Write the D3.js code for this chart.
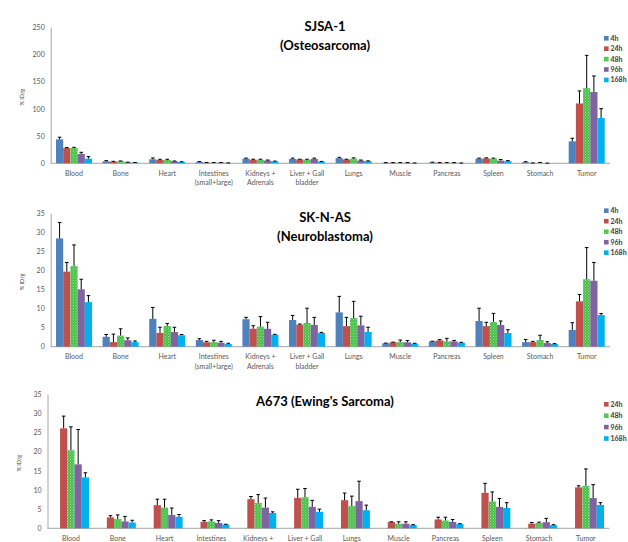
<!DOCTYPE html>
<meta charset="utf-8">
<script src="https://d3js.org/d3.v7.min.js"></script>
<style>
  body { margin: 0; background: #fff; }
  text { font-family: Lato, "Open Sans", sans-serif; }
</style>
<svg id="vis"></svg>
<script>
    // organs on the x axis (second line where the label wraps)
    let organs = ['Blood', 'Bone', 'Heart', 'Intestines', 'Kidneys +', 'Liver + Gall', 'Lungs', 'Muscle', 'Pancreas', 'Spleen', 'Stomach', 'Tumor']
    let organs2 = ['', '', '', '(small+large)', 'Adrenals', 'bladder', '', '', '', '', '', '']
    let times = ['4h', '24h', '48h', '96h', '168h']
    let timeColor = ['#4F81BD', '#C0504D', 'url(#check)', '#8064A2', '#00B0F0']

    // SJSA-1, rows = 4h, 24h, 48h, 96h, 168h
    let sjsaMean = [
        [44, 3.7, 7.4, 2.5, 8.5, 8, 9.5, 1, 1.5, 8.5, 2, 40.4],
        [28.2, 3.1, 6.1, 1.2, 6.5, 7, 7, 1, 1, 9, 0.5, 110],
        [28.2, 3.7, 6.1, 1.2, 6.5, 6.5, 8.5, 1, 1, 8.5, 1, 138],
        [17.2, 1.8, 3.7, 1.2, 5, 8, 5, 1, 1, 5, 0.2, 131],
        [8.6, 1.2, 2.5, 0.6, 3.5, 3, 4, 0.5, 0.5, 4, 0.1, 83.3]
    ]
    let sjsaSd = [
        [4, 1.2, 2.4, 0.8, 1, 1.5, 1.5, 0.2, 0.5, 1, 1, 5.6],
        [0.6, 0.5, 1.3, 0.3, 1, 0.5, 0.5, 0.3, 0.3, 1, 0.2, 23],
        [1.2, 0.6, 1.3, 0.3, 1, 1, 1.5, 0.3, 0.3, 1, 0.5, 60.5],
        [3, 0.3, 0.5, 0.3, 1, 1.5, 1, 0.3, 0.3, 2, 0.1, 29.5],
        [3.7, 0.3, 0.4, 0.2, 0.5, 0.5, 0.5, 0.1, 0.1, 1, 0, 17.2]
    ]

    // SK-N-AS
    let sknasMean = [
        [28.4, 2.6, 7.3, 1.75, 7.2, 7.0, 9.0, 0.9, 1.4, 6.75, 1.2, 4.4],
        [19.7, 1.2, 3.6, 1.15, 4.7, 5.8, 5.4, 1.15, 1.65, 5.4, 1.2, 11.9],
        [21.2, 2.9, 5.4, 1.2, 5.25, 6.2, 7.5, 1.2, 1.4, 6.5, 1.75, 17.7],
        [15.05, 1.7, 3.85, 1.05, 4.7, 5.7, 5.6, 1.15, 1.4, 5.7, 0.95, 17.3],
        [11.7, 1.2, 3.0, 0.7, 3.15, 3.6, 3.85, 0.8, 1.05, 3.6, 0.7, 8.3]
    ]
    let sknasSd = [
        [4.2, 0.6, 3.0, 0.35, 0.5, 1.2, 4.2, 0.05, 0.05, 3.35, 0.7, 1.9],
        [2.4, 2.1, 1.5, 0.25, 0.8, 0.15, 2.3, 0.05, 0.2, 1.0, 0.2, 1.8],
        [5.5, 1.8, 0.7, 0.5, 2.65, 3.9, 4.4, 0.55, 0.8, 2.25, 1.25, 8.3],
        [2.65, 0.6, 1.25, 0.35, 1.7, 2.0, 2.4, 0.45, 0.25, 1.05, 0.35, 4.8],
        [1.7, 0.3, 0.2, 0.2, 0.1, 0.15, 1.25, 0.1, 0.1, 0.85, 0.1, 0.4]
    ]

    // A673 (no 4h group)
    let a673Mean = [
        null,
        [26.1, 2.85, 6.05, 1.7, 7.6, 7.95, 7.35, 1.65, 2.3, 9.25, 1.2, 10.7],
        [20.4, 2.4, 5.4, 1.8, 6.6, 8.1, 5.8, 1.2, 2.0, 7.0, 1.4, 11.1],
        [16.7, 1.8, 3.5, 1.4, 5.4, 5.6, 7.1, 1.2, 1.65, 5.6, 1.6, 7.9],
        [13.3, 1.5, 3.0, 1.0, 4.0, 4.3, 4.7, 0.85, 1.1, 5.3, 0.8, 6.1]
    ]
    let a673Sd = [
        null,
        [3.2, 0.45, 1.55, 0.3, 0.7, 2.25, 1.85, 0.05, 0.6, 2.5, 0.3, 0.4],
        [6.1, 1.1, 2.2, 0.4, 2.2, 2.3, 2.6, 0.5, 0.9, 2.5, 0.2, 4.4],
        [9.1, 1.3, 1.8, 0.6, 2.5, 1.7, 5.2, 0.5, 0.65, 2.2, 1.0, 3.5],
        [1.2, 0.6, 0.6, 0.05, 0.3, 0.7, 1.35, 0.1, 0.1, 1.4, 0.15, 0.6]
    ]

    let sjsaTicks = [0, 50, 100, 150, 200, 250]
    let smallTicks = [0, 5, 10, 15, 20, 25, 30, 35]

    // last panel is cut at the bottom of the picture, so its labels keep one line
    let panels = [
        {mean: sjsaMean, sd: sjsaSd, ticks: sjsaTicks, title: ['SJSA-1', '(Osteosarcoma)'], wrap: true,
         left: 50.7, right: 610, top: 27.3, bottom: 163.3, titleY: [31, 50], legY: 38.3, legStep: 10.4},
        {mean: sknasMean, sd: sknasSd, ticks: smallTicks, title: ['SK-N-AS', '(Neuroblastoma)'], wrap: true,
         left: 50.7, right: 610, top: 213.3, bottom: 346.7, titleY: [222, 241], legY: 210.7, legStep: 10.5},
        {mean: a673Mean, sd: a673Sd, ticks: smallTicks, title: ["A673 (Ewing's Sarcoma)"], wrap: false,
         left: 47.5, right: 609.3, top: 394.3, bottom: 528.3, titleY: [406], legY: 404.3, legStep: 11.4}
    ]

    let svg = d3.select('#vis')
        .attr('width', 628)
        .attr('height', 542)

    // green checkered fill for the 48h series
    let pat = svg.append('defs').append('pattern')
        .attr('id', 'check')
        .attr('patternUnits', 'userSpaceOnUse')
        .attr('width', 2.8).attr('height', 2.8)
    pat.append('rect').attr('width', 2.8).attr('height', 2.8).attr('fill', '#2DB82F')
    pat.append('rect').attr('width', 1).attr('height', 1).attr('fill', '#D8F2D4')
    pat.append('rect').attr('x', 1.4).attr('y', 1.4).attr('width', 1).attr('height', 1).attr('fill', '#D8F2D4')

    panels.forEach(function (p) {
        let g = svg.append('g')

        let x = d3.scaleBand()
            .domain(organs)
            .range([p.left, p.right])
            .paddingInner(0.227)
            .paddingOuter(0.1135)

        let xs = d3.scaleBand()
            .domain(times)
            .range([0, x.bandwidth()])

        let y = d3.scaleLinear()
            .domain([0, p.ticks[p.ticks.length - 1]])
            .range([p.bottom, p.top])

        // Y axis
        let ya = g.append('g')
            .attr('transform', 'translate(' + p.left + ',0)')
            .call(d3.axisLeft(y).tickValues(p.ticks).tickSize(0).tickPadding(6))
        ya.select('.domain').attr('stroke', '#A6A6A6')
        ya.selectAll('text').attr('fill', '#595959').style('font-size', '7px').style('font-family', 'Lato, sans-serif')

        // X axis line
        g.append('line')
            .attr('x1', p.left).attr('x2', p.right)
            .attr('y1', p.bottom).attr('y2', p.bottom)
            .attr('stroke', '#A6A6A6')

        // category labels
        organs.forEach(function (o, i) {
            let t = g.append('text')
                .attr('x', x(o) + x.bandwidth() / 2)
                .attr('y', p.bottom + 12.5)
                .attr('text-anchor', 'middle')
                .attr('fill', '#595959')
                .style('font-size', '7px')
            t.append('tspan').text(o)
            if (p.wrap && organs2[i]) {
                t.append('tspan').attr('x', x(o) + x.bandwidth() / 2).attr('dy', 9.5).text(organs2[i])
            }
        })

        // y title
        g.append('text')
            .attr('transform', 'translate(' + (p.left - 27) + ',' + ((p.top + p.bottom) / 2 + 2) + ') rotate(-90)')
            .attr('text-anchor', 'middle')
            .attr('fill', '#404040')
            .style('font-size', '5.5px')
            .text('% ID/g')

        // bars + error bars
        times.forEach(function (t, k) {
            if (!p.mean[k]) return
            let rows = organs.map(function (o, i) {
                return {o: o, v: p.mean[k][i], sd: p.sd[k][i]}
            })
            let bg = g.append('g')
            bg.selectAll('rect')
                .data(rows)
                .enter()
                .append('rect')
                .attr('x', function (d) { return x(d.o) + xs(t) })
                .attr('y', function (d) { return y(d.v) })
                .attr('width', xs.bandwidth())
                .attr('height', function (d) { return p.bottom - y(d.v) })
                .attr('fill', timeColor[k])

            bg.selectAll('path')
                .data(rows.filter(function (d) { return d.sd > 0 }))
                .enter()
                .append('path')
                .attr('d', function (d) {
                    let cx = x(d.o) + xs(t) + xs.bandwidth() / 2
                    let y0 = y(d.v), y1 = y(d.v + d.sd)
                    return 'M' + cx + ',' + y0 + 'V' + y1 + 'M' + (cx - 1.8) + ',' + y1 + 'H' + (cx + 1.8)
                })
                .attr('stroke', '#000')
                .attr('stroke-width', 1)
                .attr('fill', 'none')
        })

        // title
        p.title.forEach(function (s, i) {
            g.append('text')
                .attr('x', 325)
                .attr('y', p.titleY[i])
                .attr('text-anchor', 'middle')
                .style('font-size', '13px')
                .style('font-weight', 'bold')
                .attr('fill', '#000')
                .text(s)
        })

        // legend
        let li = 0
        times.forEach(function (t, k) {
            if (!p.mean[k]) return
            let ly = p.legY + li * p.legStep
            g.append('rect')
                .attr('x', 604).attr('y', ly - 2.3)
                .attr('width', 4.6).attr('height', 4.6)
                .attr('fill', timeColor[k])
            g.append('text')
                .attr('x', 610.5).attr('y', ly + 2.5)
                .attr('fill', '#404040')
                .style('font-size', '7px')
                .style('font-weight', 'bold')
                .text(t)
            li++
        })
    })
</script>
